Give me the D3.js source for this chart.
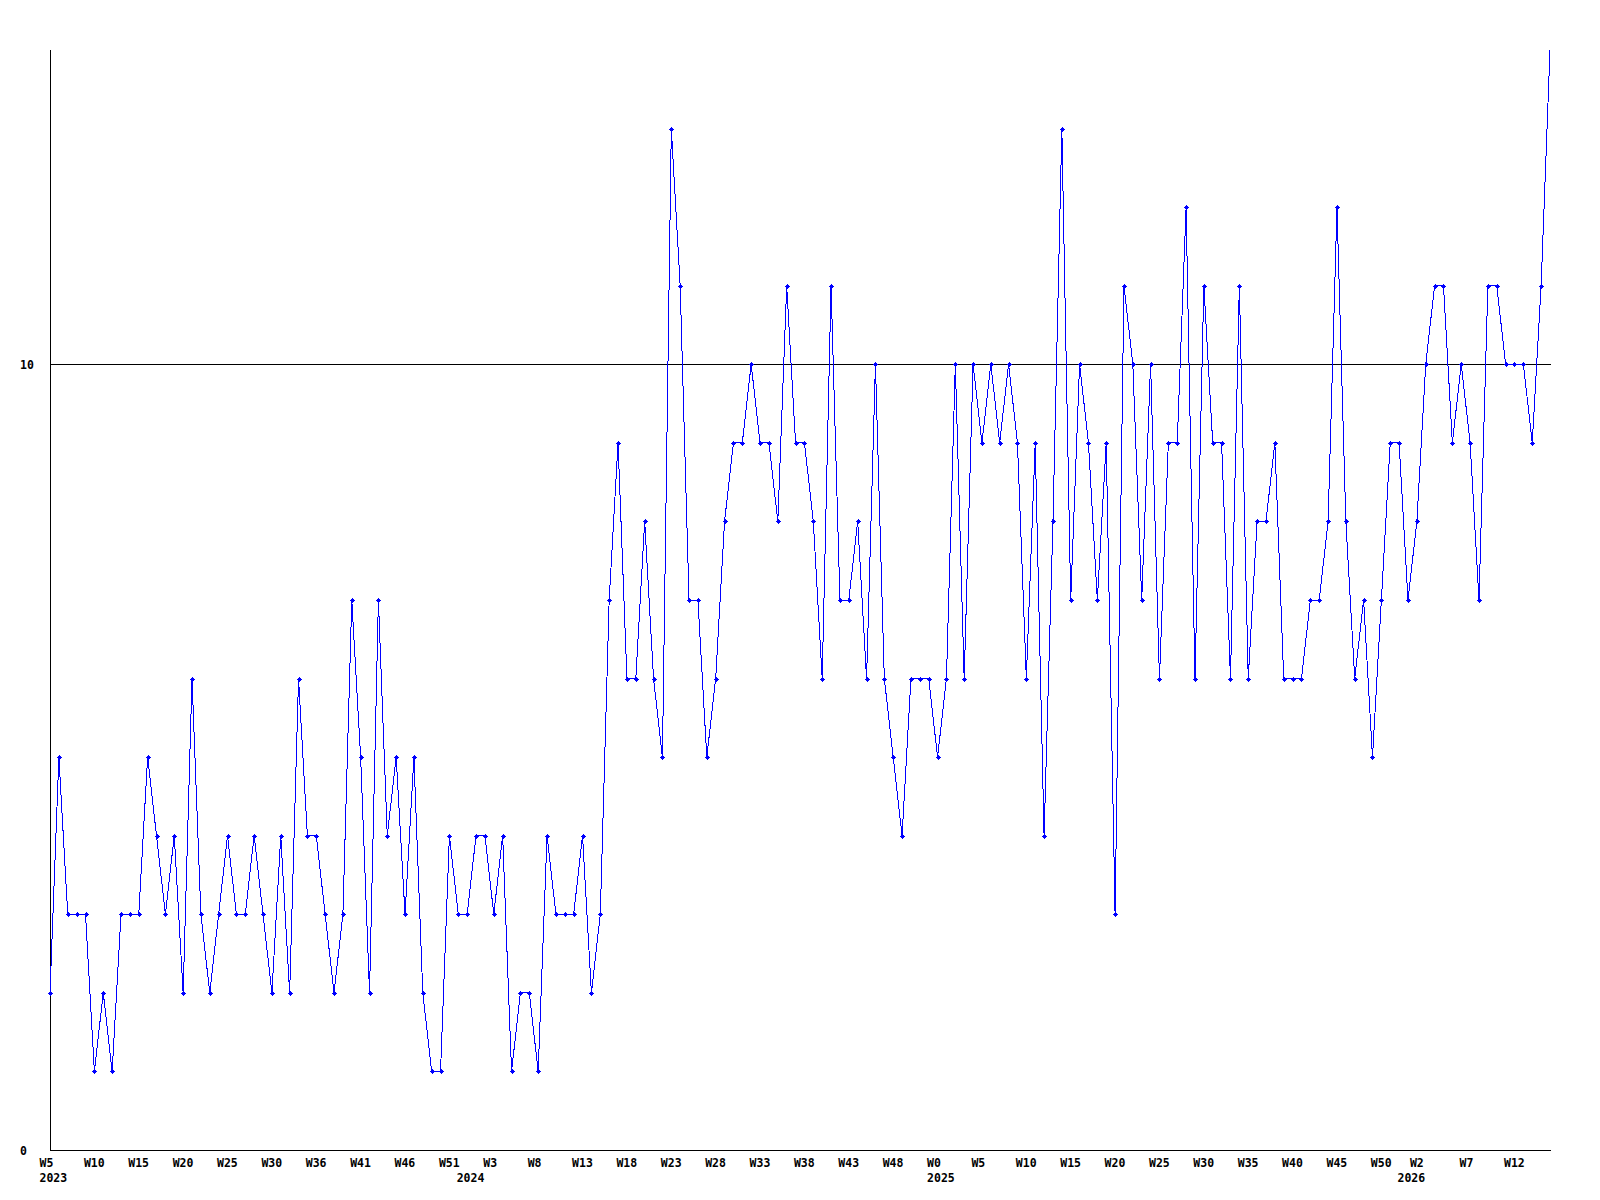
<!DOCTYPE html>
<html>
<head>
<meta charset="utf-8">
<script src="https://cdn.jsdelivr.net/npm/d3@7"></script>
<style>
  html, body { margin: 0; padding: 0; background: #ffffff; }
  svg { display: block; }
  text { font-family: "DejaVu Sans Mono", "Liberation Mono", monospace; font-weight: bold; font-size: 11.5px; fill: #000; }
</style>
</head>
<body>
<svg id="chart" width="1600" height="1200"></svg>
<script>
// weekly values, from 2023 W5 onward
const values = [
  2,5,3,3,3,1,2,1,3,3,3,5,4,3,4,2,6,3,2,3,4,3,3,4,3,2,4,2,6,4,4,3,2,3,7,5,2,
  7,4,5,3,5,2,1,1,4,3,3,4,4,3,4,1,2,2,1,4,3,3,3,4,2,3,
  7,9,6,6,8,6,5,13,11,7,7,5,6,8,9,9,10,9,9,8,11,9,9,8,6,11,7,7,8,6,10,6,5,4,6,6,6,
  5,6,10,6,10,9,10,9,10,9,6,9,4,8,13,7,10,9,7,9,3,11,10,7,10,6,9,9,12,6,11,9,9,6,
  11,6,8,8,9,6,6,6,7,7,8,12,8,6,7,5,7,9,9,7,8,10,11,11,9,10,9,7,11,11,10,10,10,9,11,14
];
const weekTickIdx = [0,5,10,15,20,25,30,35,40,45,50,55,60,65,70,75,80,85,90,95,100,105,110,115,120,125,130,135,140,145,150,154.4,160,165];
const weekTickLabels = ["W5","W10","W15","W20","W25","W30","W36","W41","W46","W51","W3","W8","W13","W18","W23","W28","W33","W38","W43","W48","W0","W5","W10","W15","W20","W25","W30","W35","W40","W45","W50","W2","W7","W12"];
const yearTickIdx = [0,47,100,153];
const yearTickLabels = ["2023","2024","2025","2026"];
const yTicks = [0,10];

const svg = d3.select("#chart");
svg.append("rect").attr("width",1600).attr("height",1200).attr("fill","#fff");

const yMax = 14;
const x = d3.scaleLinear().domain([0, values.length - 1]).range([50, 1550]);
const y = d3.scaleLinear().domain([0, yMax]).range([1150, 50]);

// gridline at 10
svg.append("line")
  .attr("x1", x(0)).attr("x2", x(values.length - 1) + 1)
  .attr("y1", Math.round(y(10)) + 0.5).attr("y2", Math.round(y(10)) + 0.5)
  .attr("stroke", "#000").attr("stroke-width", 1).attr("shape-rendering","crispEdges");

// axes
svg.append("line")
  .attr("x1", x(0) + 0.5).attr("x2", x(0) + 0.5)
  .attr("y1", y(yMax)).attr("y2", y(0) + 1)
  .attr("stroke", "#000").attr("stroke-width", 1).attr("shape-rendering","crispEdges");
svg.append("line")
  .attr("x1", x(0)).attr("x2", x(values.length - 1) + 1)
  .attr("y1", y(0) + 0.5).attr("y2", y(0) + 0.5)
  .attr("stroke", "#000").attr("stroke-width", 1).attr("shape-rendering","crispEdges");

// y labels
svg.selectAll("text.ylab").data(yTicks).join("text")
  .attr("class","ylab")
  .attr("x", 20)
  .attr("y", d => y(d) + 4.5)
  .text(d => d);

// x week labels
svg.selectAll("text.wlab").data(weekTickIdx).join("text")
  .attr("class","wlab")
  .attr("x", d => x(d) - 10.5)
  .attr("y", 1167)
  .text((d,i) => weekTickLabels[i]);

// year labels
svg.selectAll("text.ylabyr").data(yearTickIdx).join("text")
  .attr("class","ylabyr")
  .attr("x", d => x(d) - 10.5)
  .attr("y", 1181.5)
  .text((d,i) => yearTickLabels[i]);

// data line
const line = d3.line().x((d,i) => x(i)).y(d => y(d));
svg.append("path")
  .datum(values)
  .attr("d", line)
  .attr("fill","none")
  .attr("stroke","#0000ff")
  .attr("stroke-width",1)
  .attr("shape-rendering","crispEdges");

// markers (points on the very top edge are not marked in the original)
const mk = svg.append("g").attr("fill","#0000ff").attr("shape-rendering","crispEdges");
values.forEach((v,i) => {
  if (v >= yMax) return;
  const cx = Math.round(x(i)), cy = Math.round(y(v));
  mk.append("rect").attr("x", cx - 2).attr("y", cy).attr("width", 5).attr("height", 1);
  mk.append("rect").attr("x", cx).attr("y", cy - 2).attr("width", 1).attr("height", 5);
  mk.append("rect").attr("x", cx - 1).attr("y", cy - 1).attr("width", 3).attr("height", 3);
});
</script>
</body>
</html>
